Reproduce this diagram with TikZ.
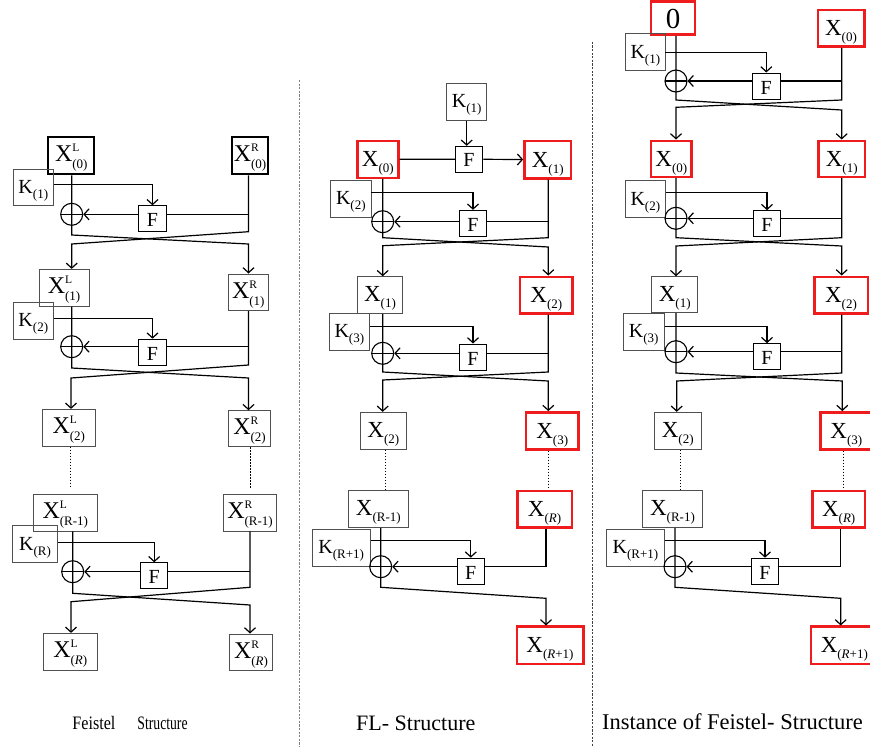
\documentclass[tikz,border=0pt]{standalone}
\usepackage{fontspec}
\setmainfont{Liberation Serif}
\usetikzlibrary{arrows.meta}
\definecolor{boxgray}{HTML}{505050}
\definecolor{rred}{HTML}{EE1C1C}
\newcommand{\fs}[1]{\fontsize{#1}{#1}\selectfont}
\newcommand{\Xsub}[1]{{\fs{23}X}\raisebox{-6pt}{\fs{13}#1}}
\newcommand{\Xlr}[2]{{\fs{24}X}\rlap{\raisebox{10pt}{\fs{11.5}#1}}\raisebox{-7pt}{\fs{13}#2}}
\newcommand{\Ksub}[1]{{\fs{20}K}\raisebox{-5pt}{\fs{13}#1}}
\begin{document}
\begin{tikzpicture}[x=1pt,y=-1pt,
  sz/.style 2 args={minimum width=#1pt,minimum height=#2pt},
  box/.style={draw=boxgray,line width=0.9pt,inner sep=0pt,text height=18pt,text depth=5pt},
  kbox/.style={box,text height=18pt,text depth=6pt},
  thickbox/.style={draw=black,line width=2.3pt,inner sep=0pt,text height=18pt,text depth=6pt},
  lrbox/.style={box,text height=18pt,text depth=6pt},
  redbox/.style={draw=rred,line width=2.4pt,inner sep=0pt,text height=20pt,text depth=5pt},
  fbox/.style={draw=black,line width=1pt,inner sep=0pt,minimum width=27.5pt,minimum height=26pt,
    font=\fs{20},text height=16pt,text depth=0pt},
  xor/.style={circle,draw=black,line width=1.1pt,inner sep=0pt,minimum size=22pt,
    path picture={\draw[line width=1.1pt] (path picture bounding box.west)--(path picture bounding box.east);}},
  conn/.style={draw=black,line width=1.2pt},
  arr/.style={conn,-{Straight Barb[length=5pt,width=11pt]}},
  dots/.style={draw=black,line width=1pt,dash pattern=on 1.5pt off 1.5pt},
  sep/.style={line width=1pt,dash pattern=on 2.2pt off 1.4pt}]
\useasboundingbox (0,0) rectangle (870,747);

% ---------------- Left column ----------------
\node[thickbox,sz={46}{37}] (XL0) at (71.3,155.8) {\Xlr{L}{(0)}};
\node[thickbox,sz={36.6}{37}] (XR0) at (250,155.8) {\Xlr{R}{(0)}};
\node[kbox,sz={40}{36.3}] (K1L) at (33.3,187.2) {\Ksub{(1)}};
\node[fbox] (F1L) at (152.5,218.8) {F};
\node[xor] (xor1L) at (71.7,214.3) {};
\node[lrbox,sz={50}{36.7}] (XL1) at (64,287.7) {\Xlr{L}{(1)}};
\node[lrbox,sz={40}{36.7}] (XR1) at (248.3,292.3) {\Xlr{R}{(1)}};
\node[kbox,sz={40}{36.7}] (K2L) at (33.3,320.7) {\Ksub{(2)}};
\node[fbox] (F2L) at (152.5,352.2) {F};
\node[xor] (xor2L) at (71.7,346.7) {};
\node[lrbox,sz={52.3}{36.7}] (XL2) at (68.8,427.7) {\Xlr{L}{(2)}};
\node[lrbox,sz={42.4}{36}] (XR2) at (249.5,428.7) {\Xlr{R}{(2)}};
\node[lrbox,sz={64}{37}] (XLR1) at (65.3,512.5) {\Xlr{L}{(R-1)}};
\node[lrbox,sz={53.4}{37}] (XRR1) at (250,512.5) {\Xlr{R}{(R-1)}};
\node[kbox,sz={44.6}{37}] (KRL) at (35,544.2) {\Ksub{(R)}};
\node[fbox] (FRL) at (154.2,575.8) {F};
\node[xor] (xorRL) at (72.7,571.7) {};
\node[lrbox,sz={54}{36.7}] (XLR) at (70.3,651.7) {\Xlr{L}{(\textit{R})}};
\node[lrbox,sz={43.4}{36.7}] (XRR) at (251,652.3) {\Xlr{R}{(\textit{R})}};

\draw[arr] (K1L.east |- 0,184.5) -| (F1L.north);
\draw[arr] (F1L.west |- xor1L) -- (xor1L.east);
\draw[conn] (F1L.east |- xor1L) -- (248.5,214.3);
\draw[arr] (xor1L |- XL0.south) -- (71.7,235) -- (248.5,244) -- (248.5,0 |- XR1.north);
\draw[arr] (XR0.south -| 248.5,0) -- (248.5,231.7) -- (71.7,244) -- (xor1L |- XL1.north);

\draw[arr] (K2L.east |- 0,318.5) -| (F2L.north);
\draw[arr] (F2L.west |- xor2L) -- (xor2L.east);
\draw[conn] (F2L.east |- xor2L) -- (248.5,346.7);
\draw[arr] (xor2L |- XL1.south) -- (71.7,368) -- (248.5,378) -- (248.5,0 |- XR2.north);
\draw[arr] (XR1.south -| 248.5,0) -- (248.5,365) -- (71,378) -- (71,0 |- XL2.north);

\draw[dots] (70,0 |- XL2.south) -- (70,488);
\draw[dots] (250,0 |- XR2.south) -- (250,488);

\draw[arr] (KRL.east |- 0,542.5) -| (FRL.north);
\draw[arr] (FRL.west |- xorRL) -- (xorRL.east);
\draw[conn] (FRL.east |- xorRL) -- (250,571.7);
\draw[arr] (xorRL |- XLR1.south) -- (72.7,593.3) -- (250,605) -- (250,0 |- XRR.north);
\draw[arr] (XRR1.south -| 250,0) -- (250,587.3) -- (71,601.7) -- (71,0 |- XLR.north);

% ---------------- Middle column ----------------
\node[kbox,sz={40}{36.7}] (K1M) at (466.7,101.7) {\Ksub{(1)}};
\node[fbox,text height=14pt] (F0M) at (469,159.3) {F};
\node[redbox,sz={41}{37}] (X0M) at (377.8,159.2) {\Xsub{(0)}};
\node[redbox,sz={46.7}{37.6}] (X1M) at (547.7,159.5) {\Xsub{(1)}};
\node[kbox,sz={40.3}{36.3}] (K2M) at (350.8,198.8) {\Ksub{(2)}};
\node[fbox] (F1M) at (473,223.3) {F};
\node[xor] (xor1M) at (382.7,221.7) {};
\node[box,sz={45.4}{36.6}] (X1Mb) at (380,295) {\Xsub{(1)}};
\node[redbox,sz={52.7}{36.6}] (X2M) at (546.3,295) {\Xsub{(2)}};
\node[kbox,sz={40}{36.7}] (K3M) at (349.3,331.7) {\Ksub{(3)}};
\node[fbox] (F2M) at (473,357) {F};
\node[xor] (xor2M) at (382.7,353.3) {};
\node[box,sz={46.7}{37}] (X2Mb) at (383.3,430.8) {\Xsub{(2)}};
\node[redbox,sz={52.3}{37}] (X3M) at (552.2,430.8) {\Xsub{(3)}};
\node[box,sz={60}{36.6}] (XRm1M) at (378.3,509) {\Xsub{(R-1)}};
\node[redbox,sz={54.4}{36.6}] (XRM) at (544.5,509) {\Xsub{(\textit{R})}};
\node[kbox,sz={57.7}{36.7}] (KR1M) at (341.2,547.7) {\Ksub{(R+1)}};
\node[fbox] (FRM) at (470.8,571.2) {F};
\node[xor] (xorRM) at (380.7,566.7) {};
\node[redbox,sz={66.6}{37.3}] (XR1M) at (550,645.3) {\Xsub{(\textit{R}+1)}};

\draw[arr] (K1M.south) -- (K1M.south |- F0M.north);
\draw[conn] (X0M.east) -- (F0M.west);
\draw[arr] (F0M.east) -- (X1M.west);

\draw[arr] (K2M.east |- 0,192.5) -| (F1M.north);
\draw[arr] (F1M.west |- xor1M) -- (xor1M.east);
\draw[conn] (F1M.east |- xor1M) -- (548.3,221.7);
\draw[arr] (xor1M |- X0M.south) -- (382.7,237.7) -- (548.3,247) -- (548.3,0 |- X2M.north);
\draw[arr] (X1M.south -| 548.3,0) -- (548.3,237.7) -- (382.7,245.7) -- (382.7,0 |- X1Mb.north);

\draw[arr] (K3M.east |- 0,326.5) -| (F2M.north);
\draw[arr] (F2M.west |- xor2M) -- (xor2M.east);
\draw[conn] (F2M.east |- xor2M) -- (548.3,353.3);
\draw[arr] (xor2M |- X1Mb.south) -- (382.7,372) -- (548.3,381) -- (548.3,0 |- X3M.north);
\draw[arr] (X2M.south -| 548.3,0) -- (548.3,372) -- (382.7,380) -- (382.7,0 |- X2Mb.north);

\draw[dots] (385.7,0 |- X2Mb.south) -- (385.7,0 |- XRm1M.north);
\draw[dots] (548.3,0 |- X3M.south) -- (548.3,486.7);

\draw[arr] (KR1M.east |- 0,540.5) -| (FRM.north);
\draw[arr] (FRM.west |- xorRM) -- (xorRM.east);
\draw[conn] (XRM.south -| 546,0) -- (546,566.7) -- (FRM.east |- xorRM);
\draw[arr] (xorRM |- XRm1M.south) -- (380.7,587.3) -- (546,598.3) -- (546,0 |- XR1M.north);

% ---------------- Right column ----------------
\node[redbox,sz={44}{33.3},font=\fs{29},text height=20pt,text depth=0pt] (Z0) at (673,18) {0};
\node[redbox,sz={46.6}{36.7}] (X0R) at (841,28.3) {\Xsub{(0)}};
\node[kbox,sz={39.3}{37.4}] (K1R) at (645.3,52) {\Ksub{(1)}};
\node[fbox] (F1R) at (766.3,86) {F};
\node[xor] (xor1R) at (676,81) {};
\node[redbox,sz={40.7}{36}] (X0R2) at (671.3,158.7) {\Xsub{(0)}};
\node[redbox,sz={46.7}{36}] (X1R) at (841.7,158.7) {\Xsub{(1)}};
\node[kbox,sz={40.7}{36.6}] (K2R) at (645.3,199) {\Ksub{(2)}};
\node[fbox] (F2R) at (767,223.7) {F};
\node[xor] (xor2R) at (676,218.3) {};
\node[box,sz={46}{36}] (X1R2) at (674.7,294.7) {\Xsub{(1)}};
\node[redbox,sz={53.4}{36.6}] (X2R) at (841,295) {\Xsub{(2)}};
\node[kbox,sz={40.7}{36.7}] (K3R) at (643.7,331.7) {\Ksub{(3)}};
\node[fbox] (F3R) at (767,356.7) {F};
\node[xor] (xor3R) at (676,351.7) {};
\node[box,sz={46.7}{37}] (X2R2) at (677.7,430.8) {\Xsub{(2)}};
\node[redbox,sz={52}{37}] (X3R) at (846.3,430.8) {\Xsub{(3)}};
\node[box,sz={59.6}{36.6}] (XRm1R) at (672.5,509) {\Xsub{(R-1)}};
\node[redbox,sz={52.7}{36.6}] (XRRc) at (838.7,509) {\Xsub{(\textit{R})}};
\node[kbox,sz={57.6}{36.7}] (KR1R) at (635.5,547.7) {\Ksub{(R+1)}};
\node[fbox] (FRR) at (765,571.2) {F};
\node[xor] (xorRR) at (675,566.7) {};
\node[redbox,sz={66.6}{37.3}] (XR1R) at (844.3,645.3) {\Xsub{(\textit{R}+1)}};

\draw[arr] (K1R.east |- 0,52.5) -| (F1R.north);
\draw[arr] (F1R.west |- xor1R) -- (xor1R.east);
\draw[conn] (F1R.east |- xor1R) -- (841.7,81);
\draw[arr] (xor1R |- Z0.south) -- (676,100) -- (841.7,110) -- (841.7,0 |- X1R.north);
\draw[arr] (X0R.south -| 841.7,0) -- (841.7,100) -- (676,107.3) -- (676,0 |- X0R2.north);

\draw[arr] (K2R.east |- 0,192.5) -| (F2R.north);
\draw[arr] (F2R.west |- xor2R) -- (xor2R.east);
\draw[conn] (F2R.east |- xor2R) -- (841.7,218.3);
\draw[arr] (xor2R |- X0R2.south) -- (676,237.7) -- (841.7,246) -- (841.7,0 |- X2R.north);
\draw[arr] (X1R.south -| 841.7,0) -- (841.7,237.7) -- (676,246) -- (676,0 |- X1R2.north);

\draw[arr] (K3R.east |- 0,326.5) -| (F3R.north);
\draw[arr] (F3R.west |- xor3R) -- (xor3R.east);
\draw[conn] (F3R.east |- xor3R) -- (841.7,351.7);
\draw[arr] (xor3R |- X1R2.south) -- (676,373) -- (842.3,381) -- (842.3,0 |- X3R.north);
\draw[arr] (X2R.south -| 841.7,0) -- (841.7,373) -- (676.7,381) -- (676.7,0 |- X2R2.north);

\draw[dots] (680,0 |- X2R2.south) -- (680,0 |- XRm1R.north);
\draw[dots] (843.3,0 |- X3R.south) -- (843.3,486.7);

\draw[arr] (KR1R.east |- 0,540.5) -| (FRR.north);
\draw[arr] (FRR.west |- xorRR) -- (xorRR.east);
\draw[conn] (XRRc.south -| 840.7,0) -- (840.7,566.7) -- (FRR.east |- xorRR);
\draw[arr] (xorRR |- XRm1R.south) -- (675,587.3) -- (840.7,598.3) -- (840.7,0 |- XR1R.north);

% ---------------- separators and captions ----------------
\draw[sep,draw=gray] (299,80) -- (299,747);
\draw[sep,draw=black!75] (592.7,41.7) -- (592.7,747);

\node[inner sep=0pt] (capA) at (130,723.3) {\scalebox{0.85}[1]{\fs{19}Feistel}\hspace{22pt}\scalebox{0.72}[1]{\fs{19}Structure}};
\node[inner sep=0pt] (capB) at (415.8,723.3) {\fs{22}FL- Structure};
\node[inner sep=0pt] (capC) at (732.5,721.7) {\fs{22.5}Instance of Feistel- Structure};
\end{tikzpicture}
\end{document}
